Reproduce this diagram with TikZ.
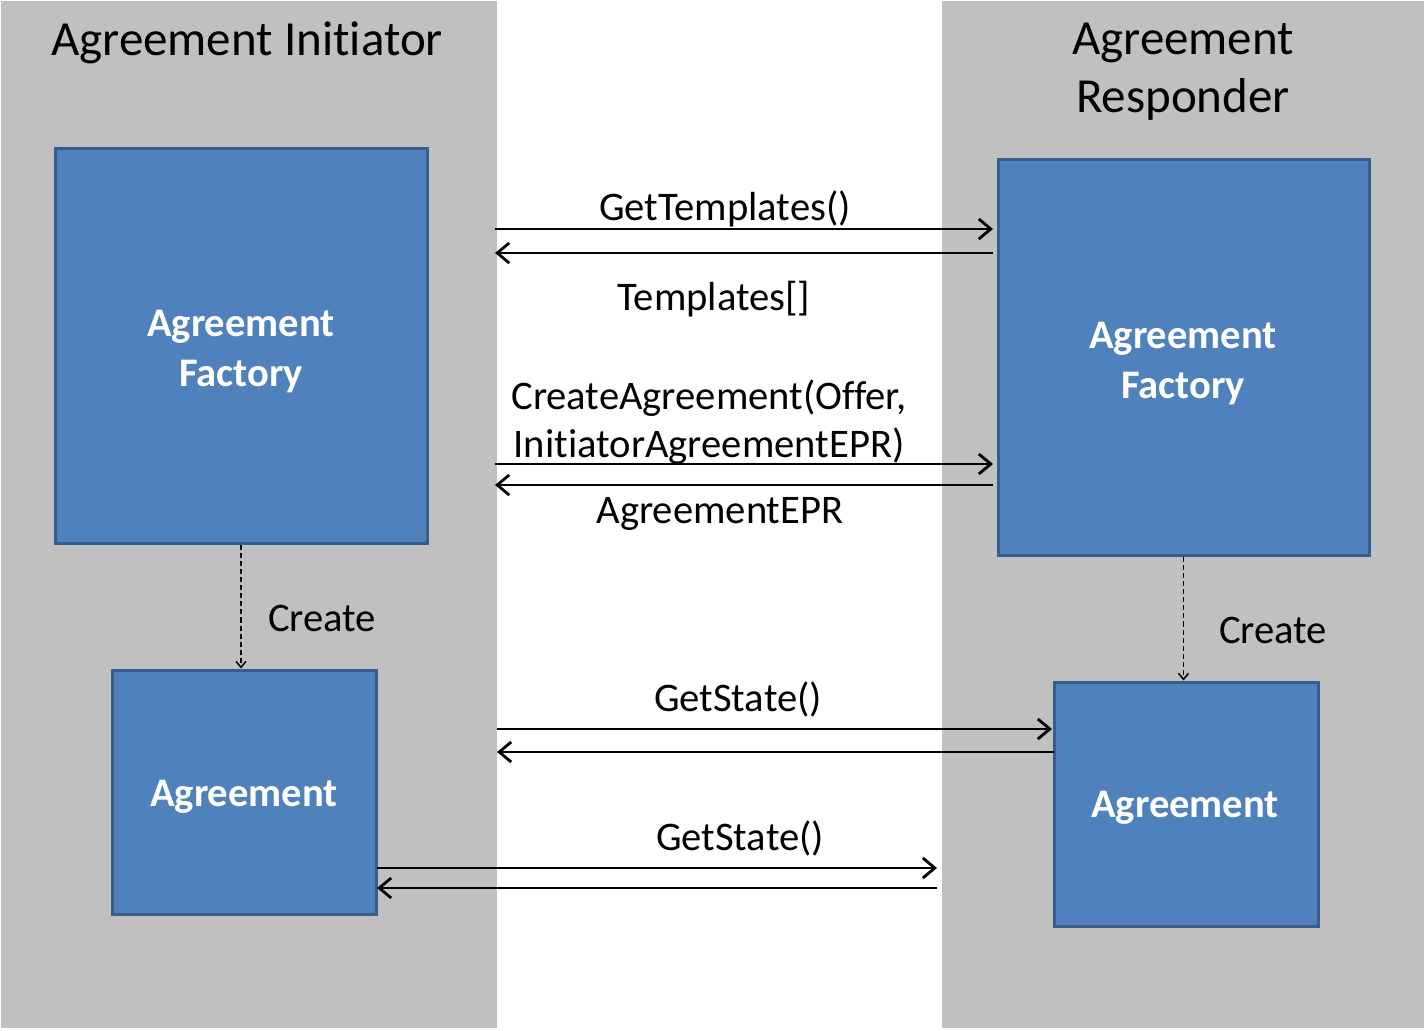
\documentclass[tikz,border=0pt]{standalone}
\usepackage{fontspec}
\setmainfont{Carlito}[Ligatures={NoCommon}]
\usetikzlibrary{arrows.meta}
\definecolor{panelgray}{RGB}{192,192,192}
\definecolor{boxblue}{RGB}{79,129,189}
\definecolor{boxedge}{RGB}{56,93,138}
\begin{document}
\begin{tikzpicture}[x=0.5pt,y=-0.5pt,
  box/.style={draw=boxedge, line width=1.5pt, fill=boxblue, text=white,
    font=\fontsize{20.3}{25}\selectfont\bfseries, align=center, inner sep=0pt},
  title/.style={font=\fontsize{24.5}{29}\selectfont, align=center, inner sep=0pt},
  lbl/.style={font=\fontsize{20.3}{24}\selectfont, align=center, inner sep=0pt},
  msg/.style={line width=1.4pt, -{Straight Barb[length=6pt,width=10pt,line width=1.4pt]}},
  creates/.style={line width=0.75pt, dash pattern=on 2.5pt off 1.5pt,
    -{Straight Barb[length=3pt,width=5pt,line width=0.75pt]}}]
\useasboundingbox (0,0) rectangle (1424,1031);
\fill[white] (0,0) rectangle (1424,1031);
% panels
\fill[panelgray] (1,1) rectangle (497,1028);
\fill[panelgray] (942,1) rectangle (1424,1028);
% titles
\node[title] (tinit) at (247,43) {Agreement Initiator};
\node[title] (tresp) at (1183,72) {Agreement\\Responder};
% boxes
\node[box, minimum width=186pt, minimum height=197.5pt] (lfac) at (241,346.5) {};
\node[box, minimum width=132pt, minimum height=122pt] (lagr) at (244,792) {};
\node[box, minimum width=185.5pt, minimum height=198pt] (rfac) at (1183.5,358) {};
\node[box, minimum width=132pt, minimum height=122pt] (ragr) at (1186,804) {};
\node[box, draw=none, fill=none] (lfact) at (241,352) {Agreement\\Factory};
\node[box, draw=none, fill=none] (lagrt) at (244,797) {Agreement};
\node[box, draw=none, fill=none] (rfact) at (1183,364) {Agreement\\Factory};
\node[box, draw=none, fill=none] (ragrt) at (1185,808) {Agreement};
% connector end points
\coordinate (a1l) at (495,229); \coordinate (a1r) at (993,229);
\coordinate (a2l) at (495,253); \coordinate (a2r) at (993,253);
\coordinate (b1l) at (495,464); \coordinate (b1r) at (993,464);
\coordinate (b2l) at (495,485); \coordinate (b2r) at (993,485);
\coordinate (c1l) at (497,729); \coordinate (c1r) at (1052,729);
\coordinate (c2l) at (497,752); \coordinate (c2r) at (1054,752);
\coordinate (d1l) at (377,868); \coordinate (d1r) at (937,868);
\coordinate (d2l) at (377,888); \coordinate (d2r) at (937,888);
% messages
\draw[msg] (a1l) -- (a1r);
\draw[msg] (a2r) -- (a2l);
\draw[msg] (b1l) -- (b1r);
\draw[msg] (b2r) -- (b2l);
\draw[msg] (c1l) -- (c1r);
\draw[msg] (c2r) -- (c2l);
\draw[msg] (d1l) -- (d1r);
\draw[msg] (d2r) -- (d2l);
% labels
\node[lbl] (lgt) at (725,209) {GetTemplates()};
\node[lbl] (ltp) at (714,299) {Templates[]};
\node[lbl] (lca) at (709,422) {CreateAgreement(Offer,\\InitiatorAgreementEPR)};
\node[lbl] (lepr) at (720,514) {AgreementEPR};
\node[lbl] (lgs1) at (738,699) {GetState()};
\node[lbl] (lgs2) at (740,838) {GetState()};
% create
\draw[creates] (lfac.south) -- (lagr.north -| lfac.south);
\draw[creates] (rfac.south) -- (ragr.north -| rfac.south);
\node[lbl] (lcr1) at (322,618) {Create};
\node[lbl] (lcr2) at (1273,630) {Create};
\end{tikzpicture}
\end{document}
